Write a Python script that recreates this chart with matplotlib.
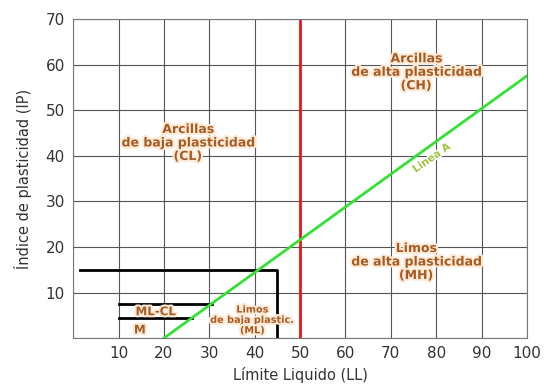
import matplotlib.pyplot as plt
import matplotlib.patheffects as pe

# Carta de plasticidad de Casagrande
ll_linea_a = [20, 100]
ip_linea_a = [0, 57.5]

ll_limite = [50, 50]
ip_limite = [0, 70]

# contornos en negro (zona CL-ML y limite de baja plasticidad)
ll_caja = [1.5, 45, 45]
ip_caja = [15, 15, 0]
ll_mlcl_sup = [10, 30.5]
ip_mlcl_sup = [7.5, 7.5]
ll_mlcl_inf = [10, 26.2]
ip_mlcl_inf = [4.5, 4.5]

etiquetas = ['Arcillas\nde baja plasticidad\n(CL)',
             'Arcillas\nde alta plasticidad\n(CH)',
             'Limos\nde alta plasticidad\n(MH)',
             'Limos\nde baja plastic.\n(ML)',
             'ML-CL', 'M']
etq_x = [25.3, 75.6, 75.6, 39.5, 18.2, 14.7]
etq_y = [42.8, 58.3, 16.7, 4.0, 5.8, 1.8]
etq_size = [9, 9, 9, 7, 8.5, 8.5]

x_ticks = [10, 20, 30, 40, 50, 60, 70, 80, 90, 100]
y_ticks = [10, 20, 30, 40, 50, 60, 70]

fig = plt.figure(figsize=(5.46, 3.86), dpi=100)
ax = fig.add_axes([0.134, 0.124, 0.831, 0.827])

ax.set_xlim(0, 100)
ax.set_ylim(0, 70)
ax.set_xticks(range(0, 101, 10))
ax.set_xticklabels([''] + [str(v) for v in x_ticks])
ax.set_yticks(range(0, 71, 10))
ax.set_yticklabels([''] + [str(v) for v in y_ticks])
ax.tick_params(length=0, labelsize=11, labelcolor='#333333', pad=6)
ax.grid(True, color='#555555', linewidth=0.8)
ax.set_axisbelow(True)
for s in ax.spines.values():
    s.set_color('#777777')
    s.set_linewidth(0.8)

ax.plot(ll_caja, ip_caja, color='black', lw=2)
ax.plot(ll_mlcl_sup, ip_mlcl_sup, color='black', lw=2)
ax.plot(ll_mlcl_inf, ip_mlcl_inf, color='black', lw=2)
ax.plot(ll_limite, ip_limite, color='#e8161b', lw=2)
ax.plot(ll_linea_a, ip_linea_a, color='#33e033', lw=2)

glow = [pe.withStroke(linewidth=3, foreground='#fdebd8')]
for t, x, y, s in zip(etiquetas, etq_x, etq_y, etq_size):
    ax.text(x, y, t, ha='center', va='center', fontsize=s, fontweight='bold',
            color='#a85a22', linespacing=1.05, path_effects=glow)

ax.text(79, 39.5, 'Linea A', ha='center', va='center', fontsize=7.5,
        fontweight='bold', color='#9cc43c', rotation=35,
        path_effects=[pe.withStroke(linewidth=2.5, foreground='white')])

ax.set_xlabel('Límite Liquido (LL)', fontsize=10.5, color='#333333', labelpad=4)
ax.set_ylabel('Índice de plasticidad (IP)', fontsize=10.5, color='#333333', labelpad=10)

fig.savefig('out.png', dpi=100)
